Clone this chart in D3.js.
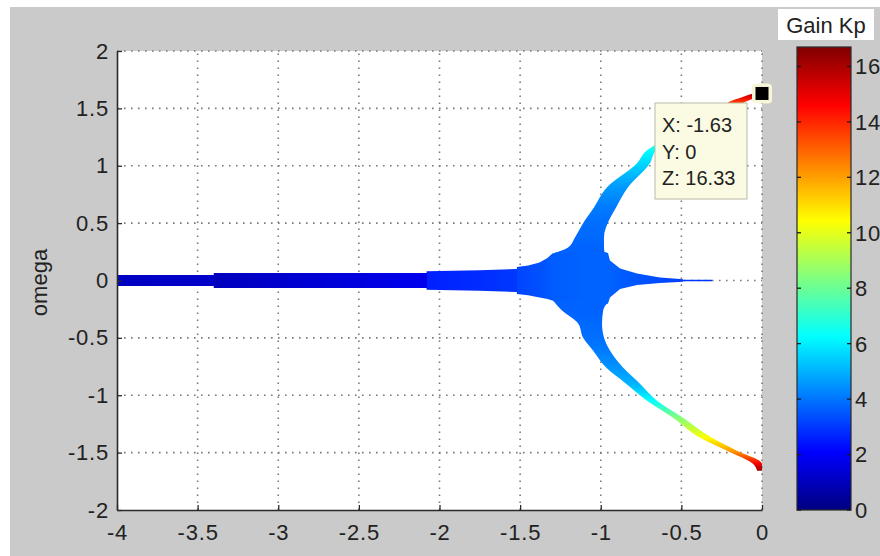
<!DOCTYPE html>
<html>
<head>
<meta charset="utf-8">
<script src="https://cdn.jsdelivr.net/npm/d3@7/dist/d3.min.js"></script>
<style>
  html, body { margin: 0; padding: 0; background: #ffffff; }
  svg { display: block; }
  text { font-family: "Liberation Sans", Arial, Helvetica, sans-serif; fill: #222; }
</style>
</head>
<body>
<svg id="chart" width="880" height="556"></svg>
<script>
// Axis ticks
const xTicks = [-4, -3.5, -3, -2.5, -2, -1.5, -1, -0.5, 0];
const xTickLabels = ["-4", "-3.5", "-3", "-2.5", "-2", "-1.5", "-1", "-0.5", "0"];
const yTicks = [-2, -1.5, -1, -0.5, 0, 0.5, 1, 1.5, 2];
const yTickLabels = ["-2", "-1.5", "-1", "-0.5", "0", "0.5", "1", "1.5", "2"];
const gainTicks = [0, 2, 4, 6, 8, 10, 12, 14, 16];
const gainTickLabels = ["0", "2", "4", "6", "8", "10", "12", "14", "16"];
const gainMax = 16.7;

// Roots on the real axis: sigma, upper / lower omega extent, gain
const axisSigma   = [-4.00, -3.40, -3.40, -2.08, -2.08, -1.75, -1.52, -1.52, -1.45, -1.38, -1.33, -1.30, -1.10, -0.955, -0.943, -0.88, -0.775, -0.633, -0.49, -0.49, -0.31];
const axisOmegaHi = [0.048, 0.048, 0.066, 0.066, 0.080, 0.090, 0.100, 0.118, 0.130, 0.157, 0.195, 0.236, 0.300, 0.240, 0.175, 0.105, 0.061, 0.026, 0.010, 0.007, 0.007];
const axisOmegaLo = [-0.048, -0.048, -0.066, -0.066, -0.080, -0.090, -0.100, -0.118, -0.128, -0.148, -0.162, -0.175, -0.300, -0.200, -0.148, -0.075, -0.040, -0.022, -0.010, -0.007, -0.007];
const axisGain    = [1.1, 1.2, 1.0, 1.8, 2.6, 2.8, 3.0, 3.2, 3.3, 3.4, 3.5, 3.6, 3.7, 3.7, 3.7, 3.6, 3.5, 3.3, 3.1, 3.0, 2.9];

// Upper complex branch: omega, sigma extent (left / right), gain
const upperOmega = [0.236, 0.288, 0.375, 0.524, 0.637, 0.812, 1.021, 1.134, 1.25, 1.40, 1.52, 1.56, 1.60, 1.632];
const upperLeft  = [-1.296, -1.203, -1.160, -1.098, -1.042, -0.961, -0.775, -0.713, -0.57, -0.37, -0.23, -0.20, -0.12, -0.05];
const upperRight = [-0.975, -0.980, -0.980, -0.949, -0.905, -0.831, -0.695, -0.657, -0.50, -0.30, -0.15, -0.10, -0.03, -0.01];
const upperGain  = [3.7, 3.7, 3.8, 3.9, 4.1, 4.6, 5.6, 6.3, 8.0, 10.5, 12.8, 13.8, 15.0, 16.3];

// Lower complex branch: omega, sigma extent (left / right), gain
const lowerOmega = [-0.175, -0.262, -0.375, -0.497, -0.611, -0.759, -0.899, -1.047, -1.195, -1.370, -1.483, -1.597, -1.658];
const lowerLeft  = [-1.296, -1.240, -1.140, -1.110, -1.048, -0.967, -0.843, -0.713, -0.552, -0.384, -0.217, -0.056, -0.030];
const lowerRight = [-0.950, -0.985, -0.992, -0.980, -0.943, -0.862, -0.757, -0.651, -0.490, -0.310, -0.155, 0.000, 0.000];
const lowerGain  = [3.7, 3.7, 3.8, 3.9, 4.1, 4.5, 5.0, 6.3, 8.4, 10.4, 12.0, 14.8, 16.3];

// Data tip
const tipX = -1.63, tipY = 0, tipZ = 16.33;

const svg = d3.select("#chart");

// Layout
const plot = { left: 117, right: 762, top: 51, bottom: 510 };
const cbar = { left: 797, right: 851, top: 47, bottom: 510 };

const x = d3.scaleLinear().domain([-4, 0]).range([plot.left, plot.right]);
const y = d3.scaleLinear().domain([-2, 2]).range([plot.bottom, plot.top]);
const g = d3.scaleLinear().domain([0, gainMax]).range([cbar.bottom, cbar.top]);

// jet colormap
const jetT = [0, 0.125, 0.375, 0.625, 0.875, 1];
const jetC = ["#000080", "#0000ff", "#00ffff", "#ffff00", "#ff0000", "#800000"];
const jet = d3.scaleLinear().domain(jetT.map(t => t * gainMax)).range(jetC)
  .interpolate(d3.interpolateRgb).clamp(true);

const defs = svg.append("defs");

// Figure background
svg.append("rect").attr("x", 10).attr("y", 7).attr("width", 870).attr("height", 549)
  .attr("fill", "#cacaca");
svg.append("rect").attr("x", plot.left).attr("y", plot.top)
  .attr("width", plot.right - plot.left).attr("height", plot.bottom - plot.top)
  .attr("fill", "#ffffff");

// Dotted grid
const grid = svg.append("g").attr("stroke", "#7a7a7a").attr("stroke-width", 1.6)
  .attr("stroke-dasharray", "1.6,5.4");
grid.selectAll("line.gx").data(xTicks.filter(d => d > -4)).join("line")
  .attr("x1", d => x(d)).attr("x2", d => x(d))
  .attr("y1", plot.bottom).attr("y2", plot.top);
grid.selectAll("line.gy").data(yTicks.filter(d => d > -2)).join("line")
  .attr("x1", plot.left).attr("x2", plot.right)
  .attr("y1", d => y(d)).attr("y2", d => y(d));

// Root locus cloud
function gradient(id, horizontal, pos, gains) {
  const a = pos[0], b = pos[pos.length - 1];
  const lg = defs.append("linearGradient").attr("id", id)
    .attr("gradientUnits", "userSpaceOnUse");
  if (horizontal) lg.attr("x1", a).attr("x2", b).attr("y1", 0).attr("y2", 0);
  else lg.attr("x1", 0).attr("x2", 0).attr("y1", a).attr("y2", b);
  lg.selectAll("stop").data(pos).join("stop")
    .attr("offset", p => (p - a) / (b - a))
    .attr("stop-color", (p, i) => jet(gains[i]));
}

const axisRows = axisSigma.map((s, i) => ({ s, hi: axisOmegaHi[i], lo: axisOmegaLo[i] }));
gradient("gAxis", true, axisSigma.map(s => x(s)), axisGain);
svg.append("path").datum(axisRows)
  .attr("d", d3.area().x(d => x(d.s)).y0(d => y(d.lo)).y1(d => y(d.hi)))
  .attr("fill", "url(#gAxis)");

function branch(id, om, left, right, gains) {
  const rows = om.map((w, i) => ({ w, l: left[i], r: right[i] }));
  gradient(id, false, om.map(w => y(w)), gains);
  svg.append("path").datum(rows)
    .attr("d", d3.area().curve(d3.curveMonotoneY)
      .y(d => y(d.w)).x0(d => x(d.l)).x1(d => x(d.r)))
    .attr("fill", `url(#${id})`);
}
branch("gUpper", upperOmega, upperLeft, upperRight, upperGain);
branch("gLower", lowerOmega, lowerLeft, lowerRight, lowerGain);

// Axes
const fontSize = 22;
const xAxis = svg.append("g").attr("transform", `translate(0,${plot.bottom})`)
  .call(d3.axisBottom(x).tickValues(xTicks).tickFormat((d, i) => xTickLabels[i])
    .tickSizeInner(-5).tickSizeOuter(0).tickPadding(14));
const yAxis = svg.append("g").attr("transform", `translate(${plot.left},0)`)
  .call(d3.axisLeft(y).tickValues(yTicks).tickFormat((d, i) => yTickLabels[i])
    .tickSizeInner(-5).tickSizeOuter(0).tickPadding(8));
[xAxis, yAxis].forEach(ax => {
  ax.select(".domain").attr("stroke", "#2a2a2a").attr("stroke-width", 1.6);
  ax.selectAll(".tick line").attr("stroke", "#2a2a2a").attr("stroke-width", 1.3);
  ax.selectAll(".tick text").attr("fill", "#222").style("font-size", fontSize + "px")
    .style("font-family", "'Liberation Sans', Arial, sans-serif")
    .attr("letter-spacing", "0.8");
});

svg.append("text")
  .attr("transform", `translate(47,${(plot.top + plot.bottom) / 2 + 2}) rotate(-90)`)
  .attr("text-anchor", "middle")
  .style("font-size", "22px")
  .text("omega");

// Data tip
const tip = svg.append("g");
tip.append("rect").attr("x", 655).attr("y", 103).attr("width", 92).attr("height", 96)
  .attr("fill", "#fbfbe3").attr("stroke", "#b9b9a8").attr("stroke-width", 1);
const tipLines = [`X: ${tipX.toFixed(2)}`, `Y: ${tipY}`, `Z: ${tipZ.toFixed(2)}`];
tip.selectAll("text").data(tipLines).join("text")
  .attr("x", 662).attr("y", (d, i) => 132 + i * 26.5)
  .style("font-size", "20px").attr("fill", "#2a2a2a")
  .text(d => d);

// Marker at the tip's root
const mx = x(tipY), my = y(-tipX);
svg.append("rect").attr("x", mx - 10).attr("y", my - 10).attr("width", 20).attr("height", 20)
  .attr("rx", 4).attr("fill", "#f8f6d8");
svg.append("rect").attr("x", mx - 6.5).attr("y", my - 6.5).attr("width", 13).attr("height", 13)
  .attr("fill", "#000000");

// Colorbar
const cg = defs.append("linearGradient").attr("id", "gBar")
  .attr("gradientUnits", "userSpaceOnUse")
  .attr("x1", 0).attr("x2", 0).attr("y1", g(0)).attr("y2", g(gainMax));
cg.selectAll("stop").data(jetT).join("stop")
  .attr("offset", t => t).attr("stop-color", (t, i) => jetC[i]);
svg.append("rect").attr("x", cbar.left).attr("y", cbar.top)
  .attr("width", cbar.right - cbar.left).attr("height", cbar.bottom - cbar.top)
  .attr("fill", "url(#gBar)").attr("stroke", "#2a2a2a").attr("stroke-width", 1.2);
const cbTicks = svg.append("g").attr("stroke", "#1a1a1a").attr("stroke-width", 1.3);
cbTicks.selectAll("line.l").data(gainTicks).join("line").attr("class", "l")
  .attr("x1", cbar.left).attr("x2", cbar.left + 4).attr("y1", d => g(d)).attr("y2", d => g(d));
cbTicks.selectAll("line.r").data(gainTicks).join("line").attr("class", "r")
  .attr("x1", cbar.right - 4).attr("x2", cbar.right).attr("y1", d => g(d)).attr("y2", d => g(d));
svg.append("g").selectAll("text").data(gainTicks).join("text")
  .attr("x", cbar.right + 4).attr("y", d => g(d)).attr("dy", "0.36em")
  .style("font-size", "22px").attr("letter-spacing", "0.8")
  .text((d, i) => gainTickLabels[i]);

// Colorbar title
svg.append("rect").attr("x", 778).attr("y", 9).attr("width", 96).attr("height", 31)
  .attr("fill", "#ffffff");
svg.append("text").attr("x", 826).attr("y", 33).attr("text-anchor", "middle")
  .style("font-size", "22px").text("Gain Kp");
</script>
</body>
</html>
